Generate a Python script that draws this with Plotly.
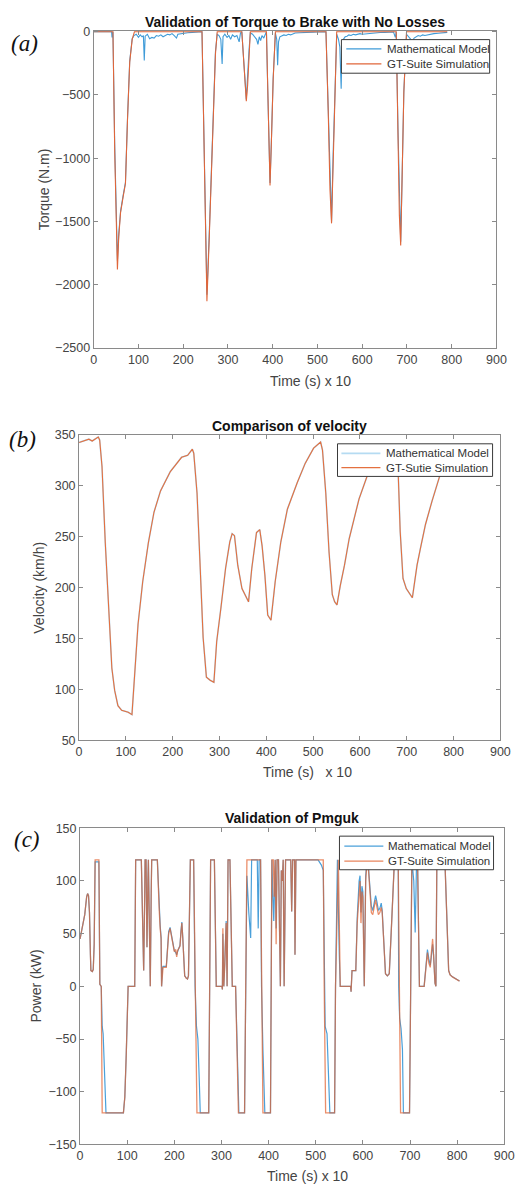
import plotly.graph_objects as go

# ---------------- Panel (a): torque to brake ----------------
torque_gt_x = [0, 43, 47, 53, 56, 60, 66, 71, 75.5, 80.5, 86, 91, 242, 247, 253, 258, 263, 268, 272, 276,
               331, 335, 338, 341, 344, 347, 350, 386, 389, 392, 394, 397, 401, 406, 519, 524, 528, 531.5,
               535, 539, 543, 676, 680, 683, 686, 689, 693, 699, 790]
torque_gt_y = [0, 0, -950, -1880, -1620, -1430, -1300, -1200, -700, -240, -60, 0, 0, -1000, -2130, -1650,
               -1100, -550, -180, 0, 0, -220, -440, -550, -420, -160, 0, 0, -480, -1050, -1215, -880, -380,
               0, 0, -620, -1250, -1515, -980, -380, 0, 0, -800, -1450, -1690, -1200, -480, 0, 0]

torque_mm_x = [0, 40, 41, 42, 43, 47, 53, 56, 60, 66, 71, 75.5, 80.5, 86, 90, 95, 100, 104, 108, 111, 113,
               115, 120, 125, 130, 135, 140, 145, 150, 155, 160, 165, 170, 175, 180, 185, 188, 195, 200,
               210, 220, 230, 242, 247, 253, 258, 263, 268, 272, 276, 280, 284, 287, 289, 293, 298, 302,
               306, 310, 315, 320, 325, 328, 331, 335, 341, 347, 350, 355, 360, 364, 367, 370, 373, 376,
               380, 383, 386, 389, 394, 397, 401, 406, 409, 411, 413, 416, 420, 425, 430, 435, 440, 445,
               450, 460, 470, 480, 490, 500, 510, 519, 524, 531.5, 535, 539, 543, 547, 550, 553, 555, 558,
               562, 566, 570, 575, 580, 585, 590, 595, 600, 610, 620, 630, 640, 650, 660, 670, 674, 676,
               680, 686, 689, 693, 699, 703, 708, 712, 716, 720, 725, 730, 735, 740, 750, 760, 770, 780, 790]
torque_mm_y = [0, 0, -45, 0, 0, -900, -1810, -1600, -1420, -1290, -1190, -690, -230, -55, -30, -20, -45,
               -25, -40, -30, -228, -35, -20, -55, -45, -50, -30, -35, -25, -40, -30, -20, -25, -15, -30,
               -50, -20, -15, -10, -8, -5, -3, 0, -950, -2080, -1620, -1080, -530, -160, -20, -30, -60,
               -255, -40, -20, -45, -30, -60, -25, -40, -30, -80, -10, 0, -200, -535, -150, -10, -20, -40,
               -60, -100, -40, -70, -30, -50, -20, 0, -470, -1195, -870, -370, -10, -60, -265, -80, -40,
               -35, -25, -30, -20, -25, -15, -10, -8, -5, -4, -3, -2, -1, 0, -600, -1500, -970, -370, -20,
               -60, -120, -450, -100, -60, -40, -35, -25, -30, -20, -25, -20, -15, -20, -15, -10, -8, -6,
               -5, -3, -2, -45, 0, -780, -1660, -1180, -470, -20, -40, -60, -75, -50, -40, -30, -35, -25,
               -30, -20, -15, -12, -8, -5]

# ---------------- Panel (b): velocity ----------------
vel_gt_x = [0, 10, 21, 28, 34, 41, 44, 49, 56, 63, 70, 76, 83, 91, 105, 113, 119, 126, 136, 148,
            160, 174, 195, 219, 232, 242, 245, 252, 258, 265, 272, 280, 288, 294, 303, 313, 322, 327, 332, 339,
            348, 355, 362, 369, 379, 386, 391, 397, 403, 410, 419, 431, 445, 466, 483, 501, 516, 520, 527, 534,
            541, 546, 551, 558, 567, 577, 598, 615, 640, 665, 678, 682, 686, 692, 699, 712, 722, 729, 740, 754,
            770, 790]
vel_gt_y = [342.6, 344, 345.8, 344, 346, 348, 345, 319, 244, 176, 121, 99, 84, 79.5, 77.5, 75.2, 118, 164, 206, 244,
            274, 295, 314, 328, 330, 336, 332, 293, 228, 151, 112, 109, 107, 147, 180, 219, 245, 253, 251, 222,
            199, 193, 186, 219, 254, 257, 241, 212, 173, 168, 206, 245, 277, 303, 322, 337, 343, 335, 293, 235,
            193, 186, 183, 202, 222, 248, 287, 309, 322, 332, 336, 309, 255, 209, 199, 190, 222, 238, 262, 285,
            309, 322]
vel_mm_x = [0, 10, 21, 28, 34, 41, 44, 49, 56, 63, 70, 76, 83, 91, 105, 113, 119, 126, 136, 148,
            160, 174, 195, 219, 232, 242, 245, 252, 258, 265, 272, 280, 288, 294, 303, 313, 322, 327, 332, 339,
            348, 355, 362, 369, 379, 386, 391, 397, 403, 410, 419, 431, 445, 466, 483, 501, 516, 520, 527, 534,
            541, 546, 551, 558, 567, 577, 598, 615, 640, 665, 678, 682, 686, 692, 699, 712, 722, 729, 740, 754,
            770, 790]
vel_mm_y = [342.6, 344, 345.8, 344, 346, 348, 345, 319, 244, 176, 121, 99, 84, 79.5, 77.5, 75.2, 118, 164, 206, 244,
            274, 295, 314, 328, 330, 336, 332, 293, 228, 151, 112, 109, 107, 147, 180, 219, 245, 253, 251, 222,
            199, 193, 186, 219, 254, 257, 241, 212, 173, 168, 206, 245, 277, 303, 322, 337, 343, 335, 293, 235,
            193, 186, 183, 202, 222, 248, 287, 309, 322, 332, 336, 309, 255, 209, 199, 190, 222, 238, 262, 285,
            309, 322]

# ---------------- Panel (c): Pmguk power ----------------
pw_gt_x = [0, 5, 10, 14, 16, 18, 20, 22, 23, 26, 28, 30, 31, 32, 40, 41, 42, 45, 46, 47, 92, 95, 98, 100, 102,
           116, 118, 130, 133, 135, 137, 138, 140, 142, 144, 145, 147, 149, 151, 152, 164, 166, 168, 170, 172,
           173, 175, 176, 183, 186, 188, 191, 194, 197, 200, 203, 205, 207, 210, 212, 214, 216, 218, 220, 222,
           225, 228, 230, 232, 234, 241, 243, 244, 246, 248, 273, 275, 277, 285, 287, 289, 301, 302, 303, 305,
           307, 310, 312, 314, 318, 320, 323, 330, 333, 336, 349, 352, 354, 383, 385, 386, 388, 404, 406, 407,
           410, 412, 414, 416, 418, 421, 425, 427, 429, 431, 433, 436, 447, 449, 451, 455, 456, 458, 509, 516,
           518, 520, 521, 540, 542, 548, 550, 552, 574, 575, 577, 585, 588, 592, 594, 596, 598, 600, 603, 606,
           609, 612, 615, 618, 621, 624, 627, 630, 633, 636, 639, 641, 645, 648, 652, 656, 660, 665, 667, 675,
           678, 679, 680, 699, 701, 704, 716, 718, 720, 730, 732, 734, 737, 740, 743, 745, 748, 750, 753, 755,
           757, 774, 778, 782, 785, 790, 805]
pw_gt_y = [45, 55, 68, 85, 88, 86, 70, 30, 15, 14, 16, 40, 110, 120, 120, 60, 2, 0, -60, -120, -120, -105, -65,
           -25, 0, 0, 120, 120, 60, 15, 80, 120, 120, 37, 100, 120, 60, 0, 90, 120, 120, 90, 72, 55, 45, 0, 15,
           18, 18, 40, 50, 55, 48, 38, 33, 35, 28, 34, 36, 38, 50, 60, 45, 20, 10, 8, 7, 10, 50, 120, 120, 60,
           0, -60, -120, -120, 0, 120, 120, 47, 0, 0, -3, 55, 0, 20, 60, 0, 120, 120, 60, 0, 0, -60, -120, -120,
           0, 120, 120, 0, -60, -120, -120, 0, 120, 120, 85, 120, 40, 120, 120, 0, 110, 100, 120, 0, 120, 120,
           71, 120, 120, 30, 120, 120, 120, 0, -60, -120, -120, 0, 120, 62, 0, 0, -5, 15, 15, 60, 95, 100, 60,
           90, 85, 0, 100, 120, 110, 85, 70, 68, 75, 82, 75, 68, 70, 75, 70, 40, 12, 10, 12, 50, 110, 120, 120,
           0, -60, -120, -120, 0, 120, 120, 60, 0, 0, 10, 18, 32, 22, 18, 30, 45, 30, 3, 0, 120, 120, 60, 15,
           11, 9, 5]

pw_mm_x = [0, 5, 10, 14, 16, 18, 20, 22, 23, 26, 28, 30, 31, 32, 40, 41, 42, 45, 47, 49, 52, 55, 92, 95, 98,
           100, 102, 116, 118, 130, 133, 135, 137, 138, 140, 142, 144, 145, 147, 149, 151, 152, 164, 166, 168,
           170, 172, 173, 175, 176, 183, 186, 188, 191, 194, 197, 200, 203, 205, 207, 210, 212, 214, 216, 218,
           220, 222, 225, 228, 230, 232, 234, 241, 243, 244, 247, 250, 253, 255, 273, 275, 277, 285, 287, 289,
           301, 302, 303, 305, 307, 310, 312, 314, 318, 320, 323, 330, 333, 337, 349, 352, 354, 358, 362, 364,
           376, 378, 380, 383, 385, 388, 392, 404, 406, 407, 409, 411, 414, 416, 418, 421, 425, 427, 429, 431,
           433, 436, 447, 449, 451, 455, 456, 458, 505, 512, 516, 518, 520, 524, 527, 530, 540, 542, 546, 548,
           550, 552, 574, 575, 577, 585, 588, 592, 594, 596, 598, 600, 603, 606, 609, 612, 615, 618, 621, 624,
           627, 630, 633, 636, 639, 641, 645, 648, 652, 656, 660, 665, 667, 675, 676, 678, 681, 684, 686, 699,
           701, 704, 708, 711, 714, 716, 718, 720, 730, 732, 734, 737, 740, 743, 745, 748, 750, 753, 755, 757,
           774, 778, 782, 785, 790, 805]
pw_mm_y = [45, 55, 68, 85, 88, 86, 70, 30, 15, 14, 16, 40, 110, 118, 118, 60, 2, 0, -38, -45, -80, -120, -120,
           -105, -65, -25, 0, 0, 120, 120, 60, 15, 80, 120, 120, 37, 100, 120, 60, 0, 90, 120, 120, 95, 74, 58,
           46, 0, 17, 19, 19, 42, 52, 56, 49, 39, 34, 32, 30, 33, 37, 39, 52, 61, 46, 20, 10, 8, 7, 10, 50, 120,
           120, 60, 0, -38, -50, -90, -120, -120, 0, 120, 120, 52, 0, 0, -3, 50, 0, 22, 62, 0, 120, 120, 60, 0,
           0, -50, -120, -120, 0, 105, 70, 46, 120, 120, 55, 120, 120, 0, -60, -120, -120, 0, 120, 87, 62, 120,
           55, 120, 120, 0, 110, 100, 120, 0, 120, 120, 71, 120, 120, 30, 120, 120, 115, 110, 0, -38, -45, -90,
           -120, -120, 0, 120, 59, 30, 0, 0, -5, 15, 15, 65, 100, 105, 70, 95, 90, 0, 105, 120, 112, 90, 76, 72,
           80, 86, 80, 72, 74, 79, 72, 40, 12, 10, 12, 50, 110, 120, 120, 0, -30, -40, -60, -120, -120, 0, 120,
           100, 51, 120, 120, 60, 0, 0, 12, 20, 35, 26, 20, 27, 40, 30, 3, 0, 120, 120, 60, 15, 11, 9, 5]

# ---------------- Text ----------------
titles = ["Validation of Torque to Brake with No Losses", "Comparison of velocity", "Validation of Pmguk"]
ylabels = ["Torque (N.m)", "Velocity (km/h)", "Power (kW)"]
xlabels = ["Time (s) x 10", "Time (s)   x 10", "Time (s) x 10"]
panel_tags = ["(a)", "(b)", "(c)"]
legend_names = [["Mathematical Model", "GT-Suite Simulation"],
                ["Mathematical Model", "GT-Sutie Simulation"],
                ["Mathematical Model", "GT-Suite Simulation"]]
x_ticks = [0, 100, 200, 300, 400, 500, 600, 700, 800, 900]
y_ticks_a = [-2500, -2000, -1500, -1000, -500, 0]
y_ticks_b = [50, 100, 150, 200, 250, 300, 350]
y_ticks_c = [-150, -100, -50, 0, 50, 100, 150]

W, H = 525, 1192
FONT = "Liberation Sans, Arial, Helvetica, sans-serif"
BLUE_A = "#3f9bd8"
ORANGE_A = "#e0663a"
BLUE_B = "#b5dbf2"
ORANGE_B = "#e4703f"
BLUE_C = "#4aa0da"
ORANGE_C = "rgba(226,98,48,0.72)"


def px(x):
    return x / W


def py(y):
    return 1 - y / H


fig = go.Figure()

series = [
    (torque_mm_x, torque_mm_y, BLUE_A, 1.1, "x", "y", legend_names[0][0]),
    (torque_gt_x, torque_gt_y, ORANGE_A, 1.1, "x", "y", legend_names[0][1]),
    (vel_mm_x, vel_mm_y, BLUE_B, 1.6, "x2", "y2", legend_names[1][0]),
    (vel_gt_x, vel_gt_y, ORANGE_B, 1.1, "x2", "y2", legend_names[1][1]),
    (pw_mm_x, pw_mm_y, BLUE_C, 1.2, "x3", "y3", legend_names[2][0]),
    (pw_gt_x, pw_gt_y, ORANGE_C, 1.3, "x3", "y3", legend_names[2][1]),
]
for xs, ys, col, lw, xa, ya, nm in series:
    fig.add_trace(go.Scatter(x=xs, y=ys, mode="lines", name=nm, showlegend=False,
                             line=dict(color=col, width=lw), xaxis=xa, yaxis=ya))


def axis(domain, rng, ticks, anchor):
    return dict(domain=domain, range=rng, tickmode="array", tickvals=ticks, ticks="inside", ticklen=4,
                tickcolor="#8a8a8a", showline=True, linecolor="#8a8a8a", linewidth=1, mirror="ticks",
                showgrid=False, zeroline=False, anchor=anchor,
                tickfont=dict(family=FONT, size=12.5, color="#444444"))


panels = [
    dict(x0=93, x1=506, y0=24, y1=345, yr=[-2500, 8], yt=y_ticks_a),
    dict(x0=78, x1=510, y0=433, y1=742, yr=[50, 350], yt=y_ticks_b),
    dict(x0=79, x1=514, y0=831, y1=1151, yr=[-150, 150], yt=y_ticks_c),
]
names = [("xaxis", "yaxis", "y", "x"), ("xaxis2", "yaxis2", "y2", "x2"), ("xaxis3", "yaxis3", "y3", "x3")]
layout_axes = {}
for p, (xn, yn, ya, xa) in zip(panels, names):
    layout_axes[xn] = axis([px(p["x0"]), px(p["x1"])], [0, 900], x_ticks, ya)
    layout_axes[yn] = axis([py(p["y1"]), py(p["y0"])], p["yr"], p["yt"], xa)

fig.update_layout(
    width=W, height=H, autosize=False, margin=dict(l=0, r=0, t=0, b=0),
    paper_bgcolor="white", plot_bgcolor="white", showlegend=False,
    **layout_axes,
)

ann = []
shapes = []
title_pos = [(299.5, 15), (294, 424), (296.5, 821)]
xlab_pos = [(315, 378), (312, 774), (312, 1183)]
ylab_pos = [(42, 184.5), (36, 587.5), (34, 991)]
tag_pos = [(22, 37), (20, 438), (25, 842)]
# legend boxes: (left, top, right, bottom, line_x0, line_x1, row1_y, row2_y, text_x)
legend_boxes = [
    (347, 33, 499, 67, 352, 388, 42.3, 57.5, 392),
    (343, 442, 502, 475, 347, 387, 451.7, 466.2, 391),
    (345, 839, 503, 873, 350, 390, 849, 864.2, 393),
]
legend_colors = [(BLUE_A, ORANGE_A), (BLUE_B, ORANGE_B), (BLUE_C, "#e8845c")]
for i in range(3):
    ann.append(dict(x=px(title_pos[i][0]), y=py(title_pos[i][1]), xref="paper", yref="paper",
                    text="<b>" + titles[i] + "</b>", showarrow=False, xanchor="center", yanchor="middle",
                    font=dict(family=FONT, size=14, color="#111111")))
    ann.append(dict(x=px(xlab_pos[i][0]), y=py(xlab_pos[i][1]), xref="paper", yref="paper",
                    text=xlabels[i], showarrow=False, xanchor="center", yanchor="middle",
                    font=dict(family=FONT, size=14, color="#444444")))
    ann.append(dict(x=px(ylab_pos[i][0]), y=py(ylab_pos[i][1]), xref="paper", yref="paper",
                    text=ylabels[i], showarrow=False, xanchor="center", yanchor="middle", textangle=-90,
                    font=dict(family=FONT, size=14, color="#444444")))
    ann.append(dict(x=px(tag_pos[i][0]), y=py(tag_pos[i][1]), xref="paper", yref="paper",
                    text="<i>" + panel_tags[i] + "</i>", showarrow=False, xanchor="center", yanchor="middle",
                    font=dict(family="Liberation Serif, Times New Roman, serif", size=23, color="#111111")))
    l, t, r, b, lx0, lx1, r1, r2, tx = legend_boxes[i]
    shapes.append(dict(type="rect", xref="paper", yref="paper", x0=px(l), x1=px(r), y0=py(b), y1=py(t),
                       fillcolor="white", line=dict(color="#3a3a3a", width=1), layer="above"))
    for ry, col, nm in zip((r1, r2), legend_colors[i], legend_names[i]):
        shapes.append(dict(type="line", xref="paper", yref="paper", x0=px(lx0), x1=px(lx1), y0=py(ry),
                           y1=py(ry), line=dict(color=col, width=1.3 if col != BLUE_B else 1.6),
                           layer="above"))
        ann.append(dict(x=px(tx), y=py(ry), xref="paper", yref="paper", text=nm, showarrow=False,
                        xanchor="left", yanchor="middle",
                        font=dict(family=FONT, size=11.5, color="#333333")))
fig.update_layout(annotations=ann, shapes=shapes)

fig.write_html("out.html", config={"displayModeBar": False, "staticPlot": True},
               post_script="document.body.style.margin='0';document.body.style.padding='0';"
                           "document.body.style.overflow='hidden';")
